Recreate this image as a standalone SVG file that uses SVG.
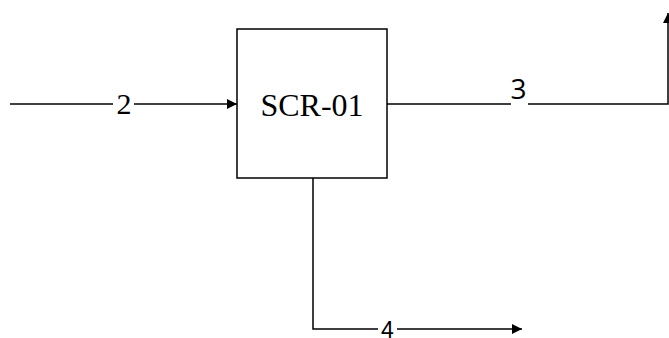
<svg xmlns="http://www.w3.org/2000/svg" width="669" height="338" viewBox="0 0 669 338">
<style>
.ln{fill:none;stroke:#000;stroke-width:1.5}
.bg{fill:#fff}
.serif{font-family:"Liberation Serif","Times New Roman",serif;fill:#000}
.sans{font-family:"Open Sans","DejaVu Sans",sans-serif;fill:#000}
.arial{font-family:"Liberation Sans",Arial,sans-serif;fill:#000}
</style>
<defs>
<marker id="ah" markerWidth="10" markerHeight="10" refX="10" refY="5" orient="auto" markerUnits="userSpaceOnUse">
<path d="M0,0 L10,5 L0,10 Z" fill="#000"/>
</marker>
</defs>
<rect width="669" height="338" fill="#fff"/>
<g id="connectors">
<g id="stream-2">
<path class="ln" d="M10,104 H237" marker-end="url(#ah)"/>
<rect class="bg" x="113" y="92" width="21" height="24"/>
<text class="serif" x="124" y="114" font-size="30" text-anchor="middle">2</text>
</g>
<g id="stream-3">
<path class="ln" d="M387,104 H668 V13" marker-end="url(#ah)"/>
<rect class="bg" x="511" y="76" width="17" height="29"/>
<text class="sans" x="518.5" y="99" font-size="28" text-anchor="middle">3</text>
</g>
<g id="stream-4">
<path class="ln" d="M313,178 V329 H522" marker-end="url(#ah)"/>
<rect class="bg" x="378" y="318" width="19" height="20"/>
<text class="arial" x="387.5" y="338" font-size="23" text-anchor="middle">4</text>
</g>
</g>
<g id="SCR-01">
<rect x="237" y="29" width="150" height="149" fill="#fff" stroke="#000" stroke-width="1.5"/>
<text class="serif" x="312" y="116" font-size="32" text-anchor="middle">SCR-01</text>
</g>
</svg>
